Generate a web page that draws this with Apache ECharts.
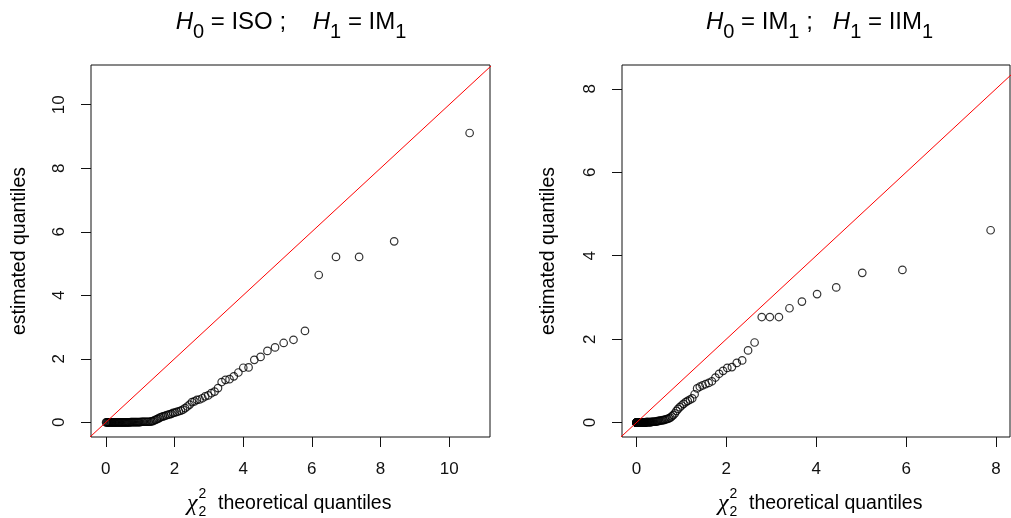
<!DOCTYPE html>
<html><head><meta charset="utf-8">
<script src="https://cdn.jsdelivr.net/npm/echarts@6/dist/echarts.min.js"></script>
<style>html,body{margin:0;padding:0;background:#fff}#c{width:1011px;height:518px}</style>
</head><body><div id="c"></div>
<script>
// ---- data ----
// Left panel: chi-square(2) theoretical quantiles vs estimated quantiles
const xLeft = [
0.010,0.030,0.051,0.071,0.092,0.113,0.134,0.156,0.178,0.200,
0.222,0.244,0.267,0.290,0.313,0.337,0.361,0.385,0.409,0.434,
0.459,0.484,0.510,0.536,0.562,0.589,0.616,0.643,0.671,0.699,
0.728,0.757,0.786,0.816,0.846,0.877,0.908,0.940,0.972,1.005,
1.038,1.072,1.107,1.142,1.178,1.214,1.251,1.289,1.327,1.366,
1.406,1.447,1.489,1.531,1.575,1.619,1.665,1.711,1.759,1.808,
1.858,1.909,1.962,2.016,2.071,2.128,2.187,2.248,2.310,2.375,
2.442,2.511,2.582,2.656,2.733,2.813,2.896,2.983,3.074,3.169,
3.269,3.375,3.486,3.604,3.729,3.862,4.005,4.159,4.326,4.508,
4.708,4.930,5.181,5.467,5.801,6.202,6.705,7.378,8.399,10.597];
const yLeft = [
0.00,0.00,0.00,0.00,0.00,0.00,0.00,0.00,0.00,0.00,
0.00,0.00,0.00,0.00,0.00,0.00,0.00,0.00,0.00,0.00,
0.00,0.00,0.00,0.00,0.00,0.00,0.00,0.00,0.00,0.00,
0.01,0.01,0.01,0.01,0.01,0.01,0.01,0.01,0.01,0.01,
0.02,0.02,0.02,0.02,0.02,0.02,0.02,0.02,0.03,0.04,
0.06,0.08,0.10,0.12,0.15,0.17,0.19,0.20,0.22,0.24,
0.25,0.27,0.30,0.31,0.33,0.35,0.37,0.40,0.45,0.50,
0.56,0.64,0.66,0.71,0.72,0.76,0.82,0.85,0.92,0.97,
1.08,1.27,1.34,1.36,1.45,1.57,1.72,1.73,1.97,2.06,
2.25,2.36,2.50,2.60,2.88,4.64,5.21,5.21,5.70,9.11];
// Right panel: chi-square(1) theoretical quantiles vs estimated quantiles
const xRight = [
0.000,0.000,0.001,0.002,0.003,0.005,0.007,0.009,0.011,0.014,
0.017,0.021,0.025,0.029,0.033,0.038,0.043,0.049,0.055,0.061,
0.068,0.075,0.082,0.090,0.098,0.106,0.115,0.124,0.134,0.144,
0.154,0.165,0.176,0.188,0.200,0.213,0.226,0.239,0.253,0.268,
0.283,0.299,0.315,0.331,0.349,0.366,0.384,0.403,0.423,0.443,
0.464,0.485,0.510,0.534,0.558,0.583,0.608,0.635,0.663,0.693,
0.723,0.755,0.787,0.820,0.855,0.891,0.928,0.966,1.006,1.048,
1.097,1.142,1.192,1.242,1.295,1.351,1.411,1.472,1.538,1.608,
1.680,1.758,1.840,1.928,2.022,2.124,2.233,2.353,2.484,2.629,
2.788,2.968,3.170,3.405,3.682,4.019,4.445,5.024,5.917,7.879];
const yRight = [
0.00,0.00,0.00,0.00,0.00,0.00,0.00,0.00,0.00,0.00,
0.00,0.00,0.00,0.00,0.00,0.00,0.00,0.00,0.00,0.00,
0.00,0.00,0.00,0.00,0.00,0.00,0.00,0.00,0.00,0.00,
0.00,0.00,0.00,0.00,0.00,0.01,0.01,0.01,0.01,0.01,
0.01,0.01,0.01,0.01,0.02,0.02,0.02,0.02,0.02,0.03,
0.03,0.04,0.04,0.05,0.05,0.06,0.06,0.07,0.08,0.09,
0.10,0.12,0.15,0.18,0.22,0.28,0.33,0.37,0.41,0.45,
0.49,0.52,0.55,0.58,0.68,0.82,0.86,0.89,0.92,0.95,
0.99,1.08,1.17,1.24,1.31,1.33,1.43,1.49,1.73,1.92,
2.53,2.53,2.53,2.74,2.90,3.08,3.24,3.59,3.66,4.61];
// reference line y = x end points
const diagEnds = [-1, 13];
// tick values
const xTicksLeft = [0, 2, 4, 6, 8, 10];
const yTicksLeft = [0, 2, 4, 6, 8, 10];
const xTicksRight = [0, 2, 4, 6, 8];
const yTicksRight = [0, 2, 4, 6, 8];
// texts
const yTitle = 'estimated quantiles';
const xTitle = 'theoretical quantiles';

// ---- chart ----
const FONT = '"Liberation Sans", Arial, sans-serif';
const INK = '#111';
function pairs(xs, ys) { return xs.map((x, i) => [x, ys[i]]); }
function xAx(gi, min, max, ticks) {
  return {
    type: 'value', gridIndex: gi, min: min, max: max,
    splitLine: { show: false },
    axisLine: { show: false, onZero: false },
    axisTick: { show: true, inside: false, length: 10, customValues: ticks, lineStyle: { color: INK, width: 1 } },
    axisLabel: { customValues: ticks, margin: 24, fontSize: 17, color: INK, fontFamily: FONT }
  };
}
function yAx(gi, min, max, ticks) {
  return {
    type: 'value', gridIndex: gi, min: min, max: max,
    splitLine: { show: false },
    axisLine: { show: false, onZero: false },
    axisTick: { show: true, inside: false, length: 10, customValues: ticks, lineStyle: { color: INK, width: 1 } },
    axisLabel: { customValues: ticks, margin: 23, rotate: 90, fontSize: 17, color: INK, fontFamily: FONT }
  };
}
const rich = {
  h: { fontFamily: FONT, fontStyle: 'italic', fontWeight: 'normal', fontSize: 24, lineHeight: 32, color: '#000', verticalAlign: 'top' },
  n: { fontFamily: FONT, fontWeight: 'normal', fontSize: 24, lineHeight: 32, color: '#000', verticalAlign: 'top' },
  s: { fontFamily: FONT, fontWeight: 'normal', fontSize: 20, lineHeight: 20, color: '#000', verticalAlign: 'bottom' }
};
function scatter(xi, yi, data) {
  return {
    type: 'scatter', xAxisIndex: xi, yAxisIndex: yi, data: data,
    symbol: 'circle', symbolSize: 7.5,
    itemStyle: { color: 'rgba(0,0,0,0)', borderColor: '#000', borderWidth: 1.2 },
    emphasis: { disabled: true }, silent: true, z: 2
  };
}
function diag(xi, yi) {
  return {
    type: 'line', xAxisIndex: xi, yAxisIndex: yi, clip: true,
    data: diagEnds.map(v => [v, v]), symbol: 'none',
    lineStyle: { color: '#ff0000', width: 1 }, silent: true, z: 3, animation: false
  };
}
function xTitleGroup(L) {
  return [
    { type: 'text', x: L, y: 504, style: { text: 'χ', font: 'italic 24px "Liberation Serif", serif', fill: '#000', verticalAlign: 'middle' } },
    { type: 'text', x: L + 11.5, y: 494.5, style: { text: '2', font: '14px ' + FONT, fill: '#000', verticalAlign: 'middle' } },
    { type: 'text', x: L + 11.5, y: 512, style: { text: '2', font: '14px ' + FONT, fill: '#000', verticalAlign: 'middle' } },
    { type: 'text', x: L + 31, y: 504, style: { text: xTitle, font: '19.5px ' + FONT, fill: '#000', verticalAlign: 'middle' } }
  ];
}
const chart = echarts.init(document.getElementById('c'), null, { renderer: 'canvas' });
chart.setOption({
  animation: false,
  backgroundColor: '#fff',
  title: [
    { text: '{h|H}{s|0}{n| = ISO ;    }{h|H}{s|1}{n| = IM}{s|1}', left: 286, top: 5, textAlign: 'center', textStyle: { fontWeight: 'normal', rich: rich } },
    { text: '{h|H}{s|0}{n| = IM}{s|1}{n| ;   }{h|H}{s|1}{n| = IIM}{s|1}', left: 814.5, top: 5, textAlign: 'center', textStyle: { fontWeight: 'normal', rich: rich } }
  ],
  grid: [
    { left: 91, top: 65, width: 399, height: 372, show: true, borderColor: INK, borderWidth: 1, backgroundColor: 'transparent' },
    { left: 622, top: 65, width: 388, height: 372, show: true, borderColor: INK, borderWidth: 1, backgroundColor: 'transparent' }
  ],
  xAxis: [ xAx(0, -0.43, 11.19, xTicksLeft), xAx(1, -0.32, 8.31, xTicksRight) ],
  yAxis: [ yAx(0, -0.46, 11.25, yTicksLeft), yAx(1, -0.345, 8.57, yTicksRight) ],
  series: [
    scatter(0, 0, pairs(xLeft, yLeft)),
    diag(0, 0),
    scatter(1, 1, pairs(xRight, yRight)),
    diag(1, 1)
  ],
  graphic: [
    { type: 'text', x: 20, y: 251, rotation: Math.PI / 2, style: { text: yTitle, font: '19.5px ' + FONT, fill: '#000', align: 'center', verticalAlign: 'middle' } },
    { type: 'text', x: 549, y: 251, rotation: Math.PI / 2, style: { text: yTitle, font: '19.5px ' + FONT, fill: '#000', align: 'center', verticalAlign: 'middle' } }
  ].concat(xTitleGroup(187)).concat(xTitleGroup(718))
});
</script>
</body></html>
